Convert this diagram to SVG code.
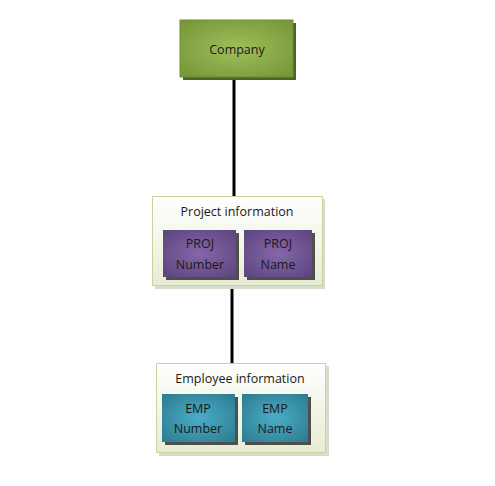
<svg xmlns="http://www.w3.org/2000/svg" width="495" height="486" viewBox="0 0 495 486">
<defs>
<radialGradient id="gGreen" cx="50%" cy="50%" r="65%">
<stop offset="0" stop-color="#9fbf5c"/><stop offset="1" stop-color="#789838"/>
</radialGradient>
<radialGradient id="gPurple" cx="50%" cy="50%" r="65%">
<stop offset="0" stop-color="#8667a8"/><stop offset="1" stop-color="#5e4781"/>
</radialGradient>
<radialGradient id="gTeal" cx="50%" cy="50%" r="65%">
<stop offset="0" stop-color="#4aaec8"/><stop offset="1" stop-color="#2e7e93"/>
</radialGradient>
<linearGradient id="gCont" x1="0" y1="0" x2="0" y2="1">
<stop offset="0" stop-color="#ffffff"/><stop offset="1" stop-color="#e6edd3"/>
</linearGradient>
</defs>
<style>
text{font-family:"Open Sans","DejaVu Sans",sans-serif;font-size:12.5px;fill:#1a1a1a;text-anchor:middle}
.conn{stroke:#000;stroke-width:3;fill:none}
.cont{fill:url(#gCont);stroke:#c3d69b;stroke-width:1}
.cshadow{fill:#d8dccd}
.shadow{fill:#333;opacity:0.85}
</style>
<rect width="495" height="486" fill="#fff"/>
<g id="connectors">
<line class="conn" x1="234" y1="78" x2="234" y2="197"/>
<line class="conn" x1="232" y1="286" x2="232" y2="364"/>
</g>
<g id="company">
<rect x="183" y="23" width="113" height="57" fill="#4f6228"/>
<rect x="180" y="20" width="113" height="57" fill="url(#gGreen)" stroke="#6f8f30" stroke-width="1"/>
<text x="237" y="54">Company</text>
</g>
<g id="project">
<rect class="cshadow" x="155" y="199" width="170" height="90"/>
<rect class="cont" x="152.5" y="196.5" width="170" height="89"/>
<text x="237" y="216">Project information</text>
<g id="proj-number">
<rect class="shadow" x="166" y="233" width="73" height="47"/>
<rect x="163" y="230" width="73" height="47" fill="url(#gPurple)"/>
<text x="200" y="248">PROJ</text>
<text x="200" y="269">Number</text>
</g>
<g id="proj-name">
<rect class="shadow" x="247" y="233" width="68" height="47"/>
<rect x="244" y="230" width="68" height="47" fill="url(#gPurple)"/>
<text x="278" y="248">PROJ</text>
<text x="278" y="269">Name</text>
</g>
</g>
<g id="employee">
<rect class="cshadow" x="159" y="366" width="170" height="90"/>
<rect class="cont" x="156.5" y="363.5" width="169" height="89"/>
<text x="240" y="383">Employee information</text>
<g id="emp-number">
<rect class="shadow" x="165" y="397" width="73" height="48"/>
<rect x="162" y="394" width="73" height="48" fill="url(#gTeal)"/>
<text x="198" y="413">EMP</text>
<text x="198" y="433">Number</text>
</g>
<g id="emp-name">
<rect class="shadow" x="245" y="397" width="66" height="48"/>
<rect x="242" y="394" width="66" height="48" fill="url(#gTeal)"/>
<text x="275" y="413">EMP</text>
<text x="275" y="433">Name</text>
</g>
</g>
</svg>
